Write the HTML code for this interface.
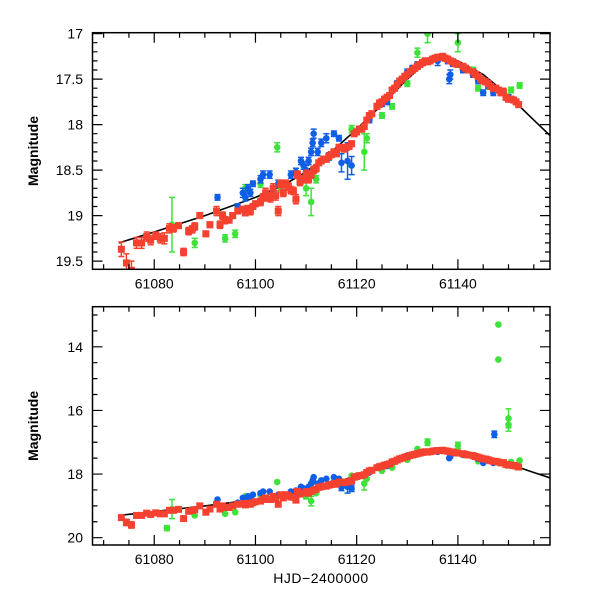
<!DOCTYPE html>
<html><head><meta charset="utf-8"><style>
body{margin:0;background:#fff}
svg text{font-family:"Liberation Sans",sans-serif;fill:#000}
</style></head><body>
<svg id="chart" width="600" height="600" viewBox="0 0 600 600" xmlns="http://www.w3.org/2000/svg"></svg>
<script>
const xDomain=[61067.8,61158.2];
const topDomain=[16.99,19.59];
const botDomain=[12.74,20.23];
const xTicks=[61080,61100,61120,61140];
const topTicks=[17,17.5,18,18.5,19,19.5];
const topTickLabels=["17","17.5","18","18.5","19","19.5"];
const botTicks=[14,16,18,20];
const botTickLabels=["14","16","18","20"];
const redDay=[61073.5,61074.5,61075.5,61076.5,61077.5,61078.5,61079.3,61080.3,61081.2,61082,61083,61083.8,61084.8,61085.8,61086.8,61087.5,61088,61089,61090.2,61091,61092.3,61093,61093.5,61094,61094.8,61095.5,61096.5,61097.5,61098,61098.5,61099,61099.5,61100,61101,61101.5,61102,61102.5,61103,61103.5,61104,61104.5,61105,61105.5,61106,61106.5,61107,61107.5,61108,61108.3,61108.8,61109.5,61110,61110.5,61111,61111.5,61112,61112.5,61113,61113.5,61114,61114.5,61115,61115.5,61116,61116.5,61117,61117.5,61118,61118.5,61119,61119.5,61120,61120.5,61121,61121.5,61122,61122.5,61123,61124,61124.5,61125,61125.5,61126,61126.5,61127,61127.5,61128,61128.5,61129,61129.5,61130,61130.5,61131,61131.5,61132,61132.5,61133,61133.5,61134,61134.5,61135,61135.5,61136,61136.5,61137,61137.5,61138,61138.5,61139,61139.5,61140,61141,61141.5,61142,61143,61143.5,61144,61144.5,61145,61145.5,61146,61146.5,61147,61147.5,61148,61148.5,61149,61149.5,61150,61150.5,61151,61151.5,61152];
const redMag=[19.37,19.52,19.6,19.3,19.3,19.23,19.27,19.22,19.25,19.25,19.14,19.14,19.11,19.4,19.17,19.15,19.12,19.0,19.2,19.1,18.95,19.1,19.0,19.05,19.05,19.0,18.95,18.93,18.97,18.92,18.95,18.9,18.87,18.85,18.8,18.75,18.8,18.8,18.7,18.78,18.95,18.65,18.75,18.65,18.68,18.72,18.73,18.82,18.55,18.63,18.6,18.55,18.6,18.55,18.5,18.48,18.42,18.4,18.38,18.38,18.35,18.33,18.3,18.32,18.25,18.25,18.27,18.25,18.24,18.21,18.1,18.08,18.05,18.05,18.02,17.95,17.9,17.88,17.8,17.77,17.75,17.72,17.7,17.68,17.62,17.6,17.56,17.52,17.5,17.47,17.45,17.42,17.4,17.38,17.36,17.34,17.32,17.3,17.31,17.3,17.28,17.27,17.26,17.26,17.25,17.27,17.28,17.3,17.31,17.33,17.34,17.36,17.38,17.4,17.42,17.45,17.47,17.5,17.52,17.53,17.55,17.58,17.6,17.6,17.62,17.65,17.64,17.7,17.72,17.72,17.73,17.75,17.78];
const redErr=[0.08,0.1,0.1,0.06,0.06,0.05,0.05,0.04,0.05,0.06,0.05,0.04,0.03,0.04,0.04,0.04,0.04,0.03,0.03,0.03,0.05,0.04,0.04,0.04,0.03,0.03,0.03,0.03,0.03,0.03,0.04,0.03,0.03,0.04,0.04,0.05,0.04,0.05,0.05,0.05,0.05,0.04,0.04,0.04,0.04,0.04,0.04,0.05,0.04,0.04,0.04,0.05,0.04,0.04,0.04,0.04,0.03,0.03,0.03,0.03,0.03,0.03,0.03,0.03,0.03,0.03,0.03,0.03,0.03,0.03,0.03,0.03,0.03,0.03,0.03,0.03,0.03,0.03,0.03,0.04,0.03,0.03,0.03,0.03,0.03,0.03,0.03,0.03,0.03,0.03,0.03,0.03,0.03,0.03,0.03,0.03,0.03,0.03,0.03,0.03,0.03,0.03,0.03,0.03,0.03,0.03,0.03,0.03,0.03,0.03,0.03,0.03,0.03,0.03,0.03,0.03,0.03,0.03,0.03,0.03,0.03,0.03,0.03,0.03,0.03,0.03,0.04,0.03,0.03,0.03,0.03,0.03,0.03];
const blueDay=[61092.5,61096.5,61097.5,61098,61098.5,61099,61099.5,61101,61101.5,61102.8,61103.5,61104.5,61107,61108,61109,61109.5,61110,61110.5,61111,61111.3,61111.5,61112.3,61113,61114,61114.5,61115.5,61116.5,61117,61118.2,61119,61122.5,61124,61125,61126,61128,61129.5,61130,61131,61132,61134,61136,61138,61138.3,61138.5,61139,61141,61143,61144,61145,61146,61147,61150,61147.2];
const blueMag=[18.8,18.9,18.75,18.8,18.7,18.75,18.65,18.6,18.55,18.55,18.72,18.65,18.55,18.52,18.4,18.45,18.5,18.4,18.3,18.2,18.1,18.3,18.2,18.15,18.35,18.1,18.15,18.42,18.4,18.45,17.95,17.8,17.77,17.75,17.55,17.47,17.42,17.38,17.34,17.3,17.3,17.3,17.5,17.45,17.33,17.4,17.45,17.52,17.65,17.57,17.65,17.7,16.75];
const blueErr=[0.03,0.03,0.05,0.04,0.04,0.04,0.03,0.04,0.04,0.04,0.04,0.04,0.04,0.04,0.04,0.04,0.05,0.04,0.04,0.04,0.05,0.04,0.04,0.05,0.04,0.03,0.03,0.1,0.2,0.1,0.03,0.03,0.03,0.03,0.03,0.03,0.03,0.03,0.03,0.03,0.05,0.03,0.05,0.05,0.03,0.03,0.03,0.03,0.03,0.03,0.03,0.03,0.1];
const greenDay=[61082.5,61083.5,61088,61094,61096,61104.3,61098,61101,61105,61110,61111,61112,61119,61121.5,61122,61125,61127,61130,61132,61134,61140,61143,61144,61148,61148,61150,61150,61152.2,61150.5,61146];
const greenMag=[19.7,19.1,19.3,19.25,19.2,18.25,18.7,18.65,18.7,18.7,18.85,18.6,18.05,18.3,18.15,17.9,17.8,17.55,17.21,17.0,17.1,17.4,17.6,14.4,13.3,16.25,16.45,17.57,17.62,17.58];
const greenErr=[0.08,0.3,0.05,0.04,0.04,0.05,0.04,0.04,0.04,0.08,0.15,0.04,0.04,0.2,0.05,0.03,0.03,0.03,0.05,0.1,0.1,0.03,0.03,0.02,0.02,0.3,0.2,0.03,0.03,0.03];
const modelDay=[61073,61080,61090,61100,61105,61110,61115,61120,61125,61130,61133,61136,61138,61140,61145,61150,61155,61158.2];
const modelMag=[19.3,19.18,19.0,18.8,18.68,18.52,18.3,18.05,17.78,17.5,17.35,17.28,17.27,17.3,17.45,17.68,17.95,18.12];

const NS="http://www.w3.org/2000/svg";
const svg=document.getElementById('chart');
const L=92.5,R=550;
function xs(d){return L+(d-xDomain[0])/(xDomain[1]-xDomain[0])*(R-L);}
function mk(tag,attrs,parent){const e=document.createElementNS(NS,tag);for(const k in attrs)e.setAttribute(k,attrs[k]);(parent||svg).appendChild(e);return e;}

function panel(id,T,B,dom,ticks,labels,minorStep){
  const ys=m=>T+(m-dom[0])/(dom[1]-dom[0])*(B-T);
  const g=mk('g',{});
  
  
  const cp=mk('clipPath',{id:'clip-'+id},g);
  mk('rect',{x:L,y:T,width:R-L,height:B-T},cp);
  const data=mk('g',{'clip-path':'url(#clip-'+id+')'},g);
  
  
  let p='';
  modelDay.forEach((d,i)=>{p+=(i?'L':'M')+xs(d).toFixed(1)+' '+ys(modelMag[i]).toFixed(1);});
  const ln=mk('path',{d:p,fill:'none',stroke:'#000','stroke-width':1.6},data);
  
  
  function series(days,mags,errs,color,name,shape){
    const sg=mk('g',{},data);
    
    
    days.forEach((d,i)=>{
      const x=xs(d),y=ys(mags[i]),e=Math.abs(ys(mags[i]+errs[i])-y);
      if(e>1.8){
        mk('path',{d:`M${x} ${y-e}V${y+e}M${x-3} ${y-e}H${x+3}M${x-3} ${y+e}H${x+3}`,stroke:color,'stroke-width':1.5,fill:'none'},sg);
      }
      let m;
      if(shape==='sq') m=mk('rect',{x:x-3.5,y:y-3.5,width:7,height:7,fill:color},sg);
      else m=mk('circle',{cx:x,cy:y,r:3.3,fill:color},sg);
      
      
    });
  }
  series(greenDay,greenMag,greenErr,'#3fe23a','green','c');
  series(blueDay,blueMag,blueErr,'#0f5ee8','blue','c');
  series(redDay,redMag,redErr,'#f5412f','red','sq');
  const fr=mk('rect',{x:L,y:T,width:R-L,height:B-T,fill:'none',stroke:'#000','stroke-width':1.5},g);
  
  
  let tk='';
  for(let d=61070;d<=61158;d+=5){const x=xs(d),len=(d%20===0)?10:5;tk+=`M${x} ${B}v${-len}M${x} ${T}v${len}`;}
  const mn=Math.ceil(dom[0]/minorStep-1e-6);
  for(let k=mn;k*minorStep<=dom[1]+1e-6;k++){const m=k*minorStep,y=ys(m);const major=ticks.some(t=>Math.abs(t-m)<1e-6);const len=major?10:5;tk+=`M${L} ${y}h${len}M${R} ${y}h${-len}`;}
  const t=mk('path',{d:tk,stroke:'#000','stroke-width':1.2,fill:'none'},g);
  
  
  ticks.forEach((m,i)=>{
    const tx=mk('text',{x:83,y:ys(m)+5,'text-anchor':'end','font-size':14},g);
    tx.textContent=labels[i];
    
    
  });
  xTicks.forEach(d=>{
    const tx=mk('text',{x:xs(d),y:B+19,'text-anchor':'middle','font-size':14},g);
    tx.textContent=String(d);
    
    
  });
  const yt=mk('text',{x:0,y:0,'text-anchor':'middle','font-size':14,'font-weight':'bold',transform:`translate(38 ${(T+B)/2}) rotate(-90)`},g);
  yt.textContent='Magnitude';
  
  
}
panel('top',32.7,269.3,topDomain,topTicks,topTickLabels,0.1);
panel('bottom',306.7,545,botDomain,botTicks,botTickLabels,0.5);
const xt=mk('text',{x:321,y:583,'text-anchor':'middle','font-size':14,'letter-spacing':'0.5'});
xt.textContent='HJD\u22122400000';


</script>
</body></html>
